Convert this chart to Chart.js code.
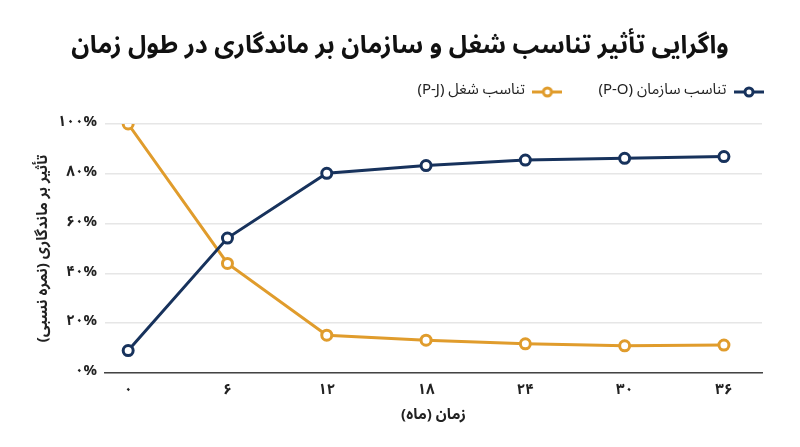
<!DOCTYPE html>
<html lang="fa">
<head>
<meta charset="utf-8">
<script src="https://cdn.jsdelivr.net/npm/chart.js@4/dist/chart.umd.min.js"></script>
<style>
  html, body { margin: 0; padding: 0; background: #fff; }
  #wrap { width: 800px; height: 447px; }
</style>
</head>
<body>
<div id="wrap"><canvas id="chart"></canvas></div>
<script>
var months = [0, 6, 12, 18, 24, 30, 36];
var poValues = [9, 54.2, 80.2, 83.3, 85.5, 86.2, 86.9];   // تناسب سازمان
var pjValues = [100, 44, 15.2, 13.2, 11.7, 10.9, 11.2];   // تناسب شغل
var yTicks = [0, 20, 40, 60, 80, 100];
var seriesNames = ['تناسب سازمان (P-O)', 'تناسب شغل (P-J)'];

var NAVY = '#17325c';
var ORANGE = '#e09c2c';
var FONT = '"Noto Sans Arabic", "DejaVu Sans", sans-serif';
var RLM = '\u200F';

function faDigits(n) {
    return String(n).replace(/[0-9]/g, function (d) { return '۰۱۲۳۴۵۶۷۸۹'[d]; });
}

// small line + hollow circle marker for the legend
function marker(color) {
    var c = document.createElement('canvas');
    c.width = 30;
    c.height = 12;
    var g = c.getContext('2d');
    g.strokeStyle = color;
    g.lineWidth = 3;
    g.beginPath();
    g.moveTo(0, 6);
    g.lineTo(30, 6);
    g.stroke();
    g.fillStyle = '#fff';
    g.beginPath();
    g.arc(15, 6, 4, 0, Math.PI * 2);
    g.fill();
    g.stroke();
    return c;
}

function points(values) {
    return months.map(function (m, i) { return { x: m, y: values[i] }; });
}

function series(label, values, color) {
    return {
        label: label,
        data: points(values),
        borderColor: color,
        backgroundColor: '#fff',
        borderWidth: 3,
        pointRadius: 5,
        pointBorderWidth: 3,
        pointBackgroundColor: '#fff',
        pointBorderColor: color,
        pointStyle: 'circle',
        tension: 0,
        fill: false
    };
}

var markers = [marker(NAVY), marker(ORANGE)];

// extra room between the legend and the plot
var legendGap = {
    id: 'legendGap',
    beforeLayout: function (chart) {
        var lg = chart.legend;
        if (lg && !lg._gapPatched) {
            var fit = lg.fit;
            lg.fit = function () { fit.call(this); this.height += 14.5; };
            lg._gapPatched = true;
        }
    }
};

new Chart(document.getElementById('chart'), {
    type: 'line',
    plugins: [legendGap],
    data: {
        datasets: [
            series(seriesNames[0], poValues, NAVY),
            series(seriesNames[1], pjValues, ORANGE)
        ]
    },
    options: {
        responsive: true,
        maintainAspectRatio: false,
        animation: false,
        layout: { padding: 0 },
        plugins: {
            title: {
                display: true,
                text: 'واگرایی تأثیر تناسب شغل و سازمان بر ماندگاری در طول زمان',
                color: '#111',
                font: { family: FONT, size: 25, weight: 'bold' },
                padding: { top: 34, bottom: -15.5 }
            },
            legend: {
                display: true,
                rtl: true,
                textDirection: 'rtl',
                align: 'start',
                labels: {
                    usePointStyle: true,
                    pointStyleWidth: 30,
                    boxHeight: 12,
                    padding: 36,
                    color: '#222',
                    font: { family: FONT, size: 15 },
                    generateLabels: function (chart) {
                        var items = Chart.defaults.plugins.legend.labels.generateLabels(chart);
                        items.forEach(function (it, i) { it.pointStyle = markers[i]; });
                        return items;
                    }
                }
            },
            tooltip: { enabled: false }
        },
        scales: {
            x: {
                type: 'linear',
                min: -1.4,
                max: 38.3,
                afterBuildTicks: function (axis) {
                    axis.ticks = months.map(function (m) { return { value: m }; });
                },
                afterFit: function (axis) { axis.height = 74; },
                grid: { display: false },
                border: { display: true, color: '#444', width: 1.5 },
                ticks: {
                    color: '#222',
                    padding: 2,
                    font: { family: FONT, size: 15, weight: 'bold' },
                    callback: function (v) { return faDigits(v); }
                },
                title: {
                    display: true,
                    text: RLM + 'زمان (ماه)' + RLM,
                    color: '#222',
                    font: { family: FONT, size: 15, weight: 'bold' },
                    padding: { top: 4, bottom: 21 }
                }
            },
            y: {
                min: 0,
                max: 100,
                afterBuildTicks: function (axis) {
                    axis.ticks = yTicks.map(function (v) { return { value: v }; });
                },
                afterFit: function (axis) { axis.width = 105; },
                grid: { color: '#e6e6e6', lineWidth: 1.5, drawTicks: false },
                border: { display: false },
                ticks: {
                    color: '#222',
                    padding: 8,
                    font: { family: FONT, size: 15, weight: 'bold' },
                    callback: function (v) { return faDigits(v) + '%'; }
                },
                title: {
                    display: true,
                    text: RLM + 'تأثیر بر ماندگاری (نمره نسبی)' + RLM,
                    color: '#222',
                    font: { family: FONT, size: 15, weight: 'bold' },
                    padding: { top: 36, bottom: 4 }
                }
            },
            // empty right-hand strip so the plot ends where the reference does
            yRight: {
                position: 'right',
                display: true,
                afterFit: function (axis) { axis.width = 38; },
                grid: { display: false },
                border: { display: false },
                ticks: { display: false }
            }
        }
    }
});
</script>
</body>
</html>
